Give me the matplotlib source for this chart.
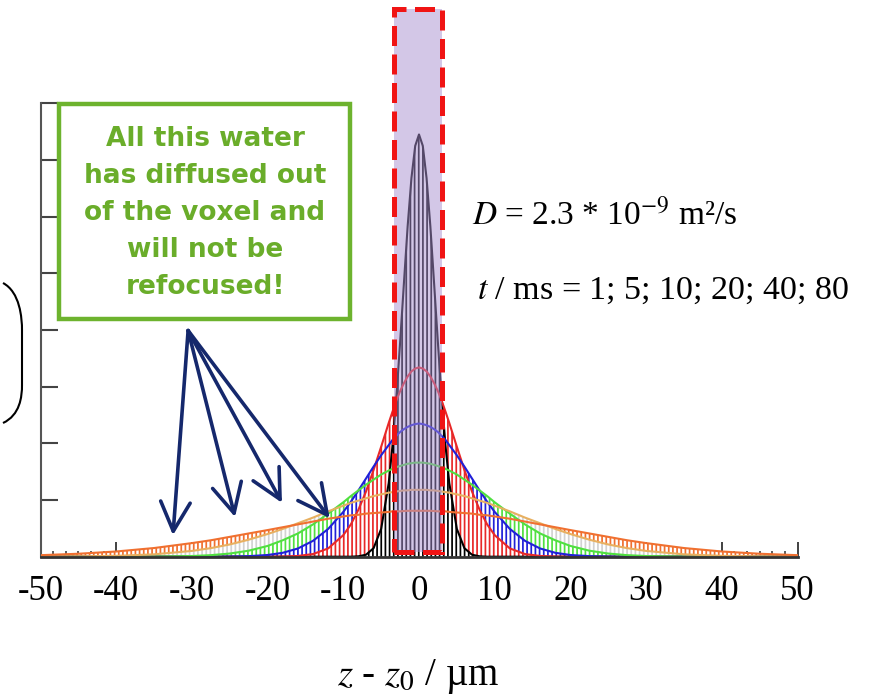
import numpy as np
import matplotlib
matplotlib.use("Agg")
import matplotlib.pyplot as plt
from matplotlib.patches import Rectangle, PathPatch
from matplotlib.path import Path

plt.rcParams['font.family'] = ['Liberation Serif', 'DejaVu Serif']
plt.rcParams['mathtext.fontset'] = 'stix'
plt.rcParams['hatch.linewidth'] = 1.25

# half profiles (z >= 0); curves are symmetric about z = 0
z_half = [0, 0.5, 1, 1.5, 2, 2.5, 3, 3.5, 4, 5, 6, 7, 8, 9, 10, 12, 14, 16, 18, 20,
          22.5, 25, 27.5, 30, 35, 40, 45, 50]
t_ms = [1, 5, 10, 20, 40, 80]
h_t1 = [7.45, 7.25, 6.68, 5.83, 4.81, 3.77, 2.79, 1.96, 1.30, 0.49, 0.15, 0.035, 0.007, 0, 0, 0, 0, 0, 0, 0,
        0, 0, 0, 0, 0, 0, 0, 0]
h_t5 = [3.34, 3.32, 3.27, 3.18, 3.06, 2.92, 2.75, 2.56, 2.36, 1.94, 1.53, 1.15, 0.83, 0.57, 0.38, 0.146, 0.047, 0.013, 0.003, 0,
        0, 0, 0, 0, 0, 0, 0, 0]
h_t10 = [2.35, 2.34, 2.32, 2.29, 2.25, 2.20, 2.13, 2.06, 1.97, 1.79, 1.59, 1.38, 1.17, 0.97, 0.79, 0.49, 0.28, 0.145, 0.069, 0.030,
         0.010, 0.003, 0, 0, 0, 0, 0, 0]
h_t20 = [1.66, 1.66, 1.65, 1.64, 1.62, 1.60, 1.58, 1.55, 1.52, 1.45, 1.36, 1.27, 1.17, 1.07, 0.96, 0.76, 0.57, 0.41, 0.29, 0.19,
         0.106, 0.056, 0.027, 0.012, 0.002, 0, 0, 0]
h_t40 = [1.18, 1.18, 1.18, 1.17, 1.17, 1.16, 1.15, 1.14, 1.13, 1.10, 1.07, 1.03, 0.99, 0.95, 0.90, 0.80, 0.69, 0.59, 0.49, 0.40,
         0.30, 0.216, 0.151, 0.102, 0.042, 0.015, 0.005, 0.001]
h_t80 = [0.81, 0.81, 0.81, 0.81, 0.806, 0.80, 0.80, 0.80, 0.79, 0.78, 0.77, 0.76, 0.74, 0.73, 0.71, 0.67, 0.62, 0.57, 0.52, 0.47,
         0.41, 0.35, 0.29, 0.24, 0.153, 0.092, 0.052, 0.027]
profiles = [h_t1, h_t5, h_t10, h_t20, h_t40, h_t80]
line_colors = ['black', '#e82828', '#2020d8', '#50e040', '#e8b060', '#f07030']
hatch_colors = ['black', '#e82828', '#2020d8', '#50e040', '#d2d2d2', '#f07030']

xticks = [-50, -40, -30, -20, -10, 0, 10, 20, 30, 40, 50]
xticklabels = ['-50', '-40', '-30', '-20', '-10', '0', '10', '20', '30', '40', '50']

fig = plt.figure(figsize=(8.71, 7.0), dpi=100)
W, H = 871.0, 700.0
ax = fig.add_axes([40.5 / W, 143.3 / H, 757 / W, 453.4 / H])

zh = np.array(z_half)
z = np.concatenate([-zh[:0:-1], zh])
curves = []
for h in profiles:
    hh = np.array(h)
    curves.append(np.concatenate([hh[:0:-1], hh]))

# widest profile at the back, white face hides what lies beneath
for i in range(len(curves) - 1, -1, -1):
    ax.fill_between(z, 0, curves[i], facecolor='white', edgecolor=hatch_colors[i],
                    hatch='||||', linewidth=0, zorder=2 + (5 - i) * 0.1)
for i in range(len(curves)):
    ax.plot(z, curves[i], color=line_colors[i], lw=1.5, zorder=3)

# voxel slab
ax.add_patch(Rectangle((-3.25, 0.08), 6.25, 9.58, facecolor='#a890d0', alpha=0.5,
                       edgecolor='none', zorder=4, clip_on=False))
ax.add_patch(Rectangle((-3.25, 0.08), 6.25, 9.58, facecolor='none', edgecolor='#f01414',
                       lw=3.6, linestyle=(0, (4, 1.7)), zorder=5, clip_on=False))

ax.set_xlim(-50, 50)
ax.set_ylim(0, 8)
ax.spines['top'].set_visible(False)
ax.spines['right'].set_visible(False)
ax.spines['left'].set_color('#555555')
ax.spines['left'].set_linewidth(1.5)
ax.spines['bottom'].set_color('#333333')
ax.spines['bottom'].set_linewidth(2)
ax.spines['bottom'].set_zorder(6)
ax.set_yticks(np.arange(0, 9))
ax.set_yticklabels([])
ax.tick_params(axis='y', direction='in', length=12, width=1.5, color='#444444')
ax.set_xticks(xticks)
ax.set_xticklabels(xticklabels)
ax.set_xticks(np.linspace(-50, 50, 61), minor=True)
ax.tick_params(axis='x', which='major', direction='in', length=11, width=1.3,
               color='#333333', labelsize=25, pad=13)
ax.tick_params(axis='x', which='minor', direction='in', length=4, width=1.1, color='#333333')

fig.text(418 / W, 1 - 676 / H, r'$z$ - $z_0$ / µm', ha='center', va='center', fontsize=28)

fig.text(472 / W, 1 - 224 / H, r'$D$ = 2.3 * 10$^{-9}$ m²/s', fontsize=24, va='baseline')
fig.text(477 / W, 1 - 299 / H, r'$t$ / ms = 1; 5; 10; 20; 40; 80', fontsize=24.5, va='baseline')

# callout box
fig.patches.append(Rectangle((59 / W, 1 - 319 / H), 291 / W, 215 / H, transform=fig.transFigure,
                             facecolor='white', edgecolor='#6db32e', lw=3.2, zorder=10))
fig.text(205 / W, 1 - 213 / H,
         'All this water\nhas diffused out\nof the voxel and\nwill not be\nrefocused!',
         ha='center', va='center', fontsize=19, fontweight='bold', color='#6aad2a',
         family='DejaVu Sans', linespacing=1.55, zorder=11)

navy = '#15286c'
tips = [(-32.5, 0.38), (-24.3, 0.70), (-18.1, 0.95), (-11.8, 0.68)]
for tip in tips:
    ax.annotate('', xy=tip, xytext=(-30.5, 3.99),
                arrowprops=dict(arrowstyle='->,head_length=0.75,head_width=0.38', color=navy,
                                lw=2.6, mutation_scale=28, shrinkA=0, shrinkB=0), zorder=8)

# cropped bracket of the y label at the left edge
bx = lambda px: px / W
by = lambda py: 1 - py / H
verts = [(bx(3), by(283)), (bx(20), by(292)), (bx(22), by(318)), (bx(22), by(330)),
         (bx(22), by(385)),
         (bx(22), by(397)), (bx(20), by(415)), (bx(3), by(423))]
codes = [Path.MOVETO, Path.CURVE4, Path.CURVE4, Path.CURVE4, Path.LINETO,
         Path.CURVE4, Path.CURVE4, Path.CURVE4]
fig.patches.append(PathPatch(Path(verts, codes), transform=fig.transFigure,
                             facecolor='none', edgecolor='black', lw=1.5))

fig.savefig('out.png', dpi=100)
